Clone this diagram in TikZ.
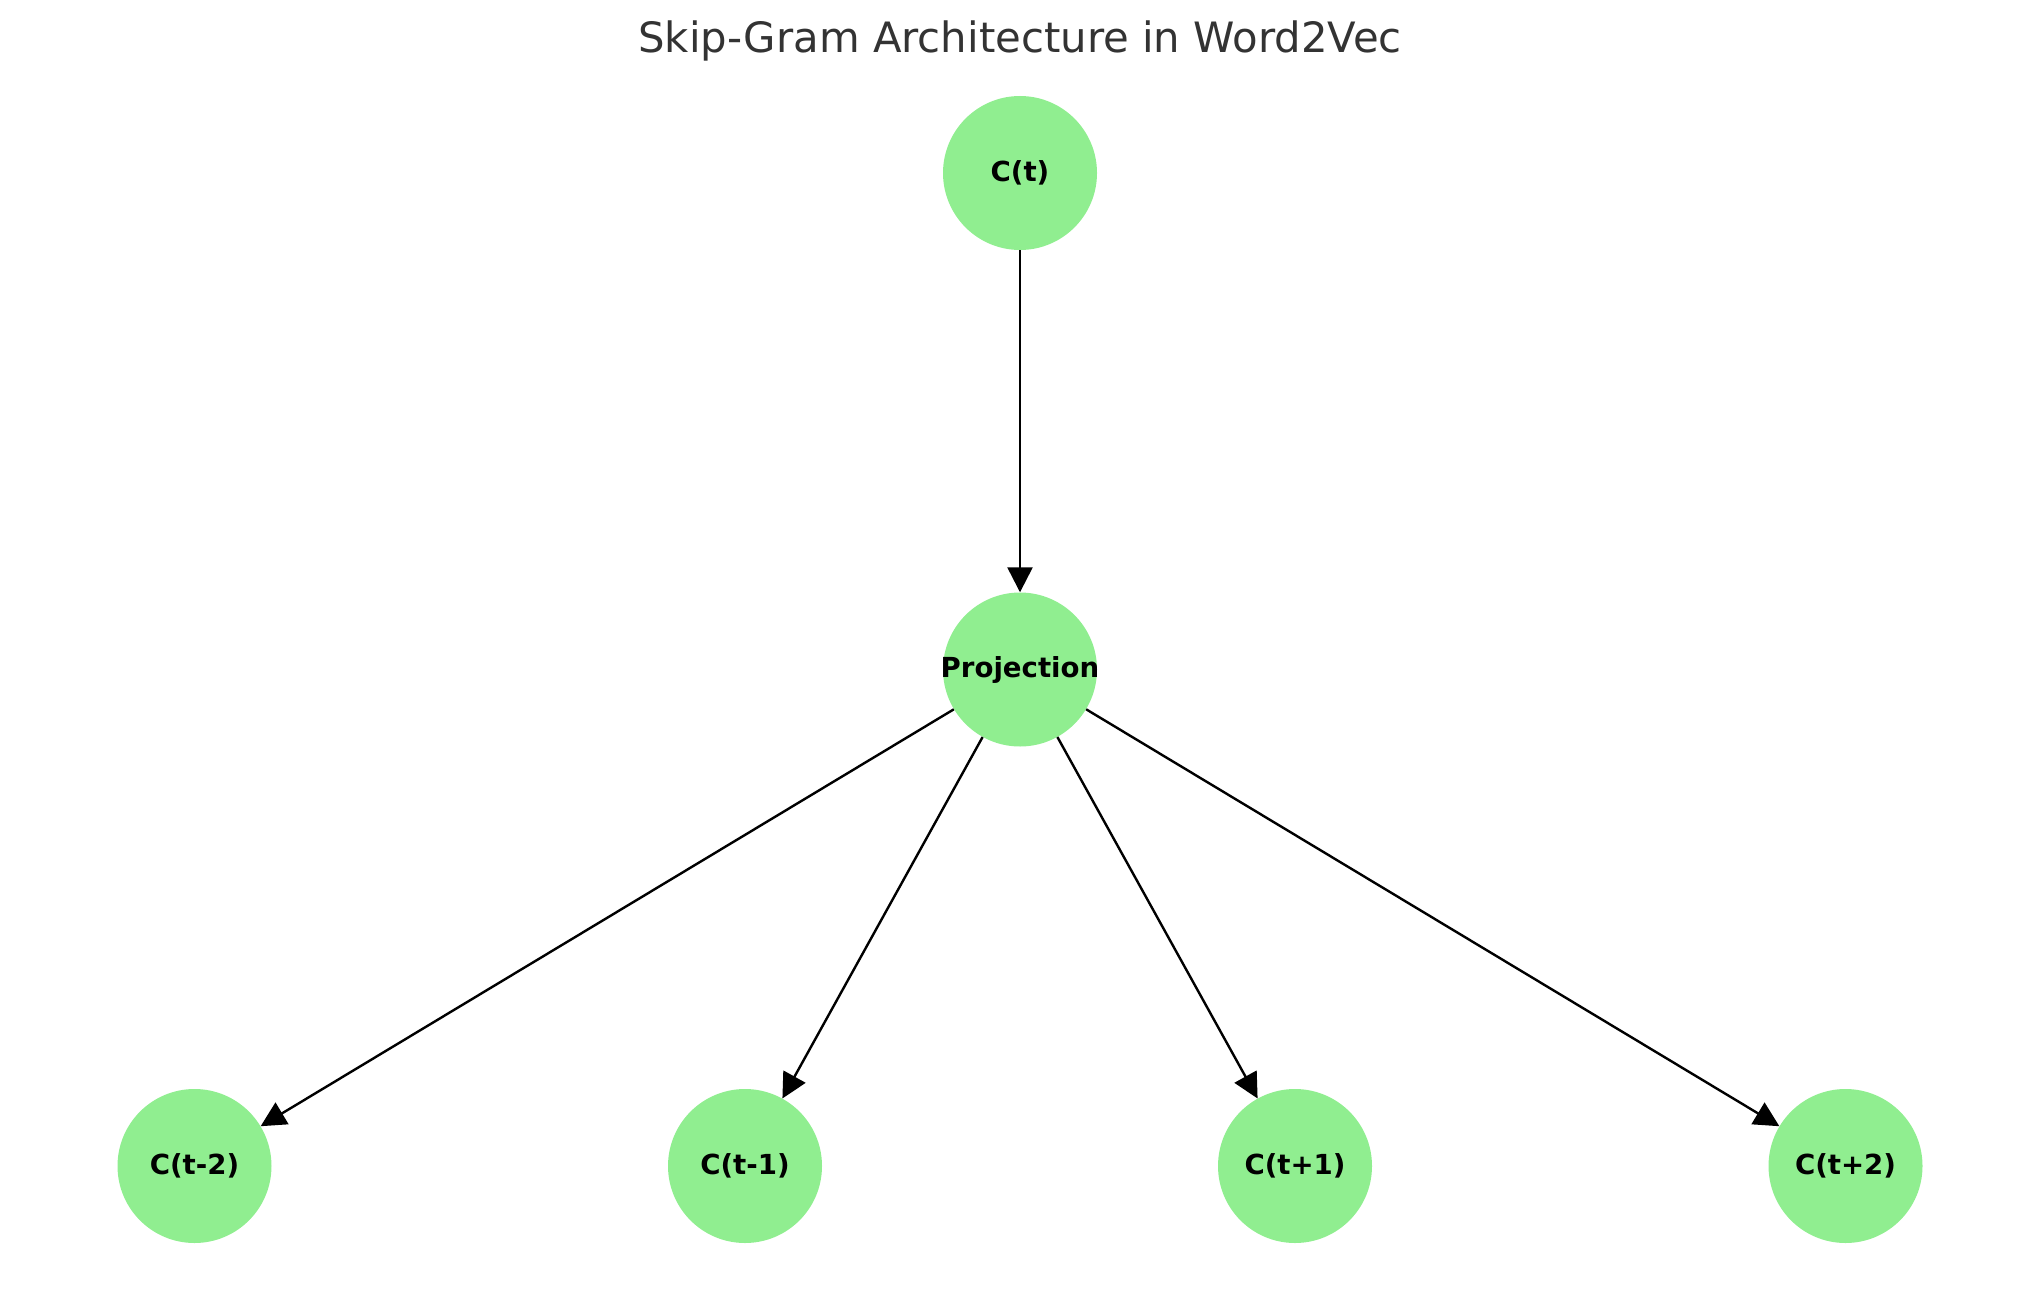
\documentclass[tikz,border=0pt]{standalone}
\usepackage{fontspec}
\setmainfont{DejaVu Sans}
\usetikzlibrary{arrows.meta,positioning}

\definecolor{nodegreen}{RGB}{144,238,144}
\definecolor{titlegray}{HTML}{333333}

\begin{document}
\begin{tikzpicture}[node distance=496.5pt,
    word/.style={circle, fill=nodegreen, minimum size=154pt, inner sep=-5pt, font=\fontsize{27.6}{33}\selectfont\bfseries},
    flow/.style={-{Triangle[length=25pt,width=25pt]}, line width=2.4pt}]

    \useasboundingbox (0,0) rectangle (2039pt,-1289pt);

    % Title
    \node[font=\fontsize{41.8}{50}\selectfont, text=titlegray] (title) at (1020pt,-41pt) {Skip-Gram Architecture in Word2Vec};

    % Input word
    \node[word] (ct) at (1020pt,-173pt) {C(t)};

    % Projection layer
    \node[word, below of=ct] (proj) {Projection};

    % Context words
    \node[word, below of=proj, xshift=-275pt] (tm1) {C(t-1)};
    \node[word, left of=tm1, xshift=-54pt] (tm2) {C(t-2)};
    \node[word, below of=proj, xshift=275pt] (tp1) {C(t+1)};
    \node[word, right of=tp1, xshift=54pt] (tp2) {C(t+2)};

    \draw[flow] (ct) -- (proj);
    \draw[flow] (proj) -- (tm2);
    \draw[flow] (proj) -- (tm1);
    \draw[flow] (proj) -- (tp1);
    \draw[flow] (proj) -- (tp2);

\end{tikzpicture}
\end{document}
